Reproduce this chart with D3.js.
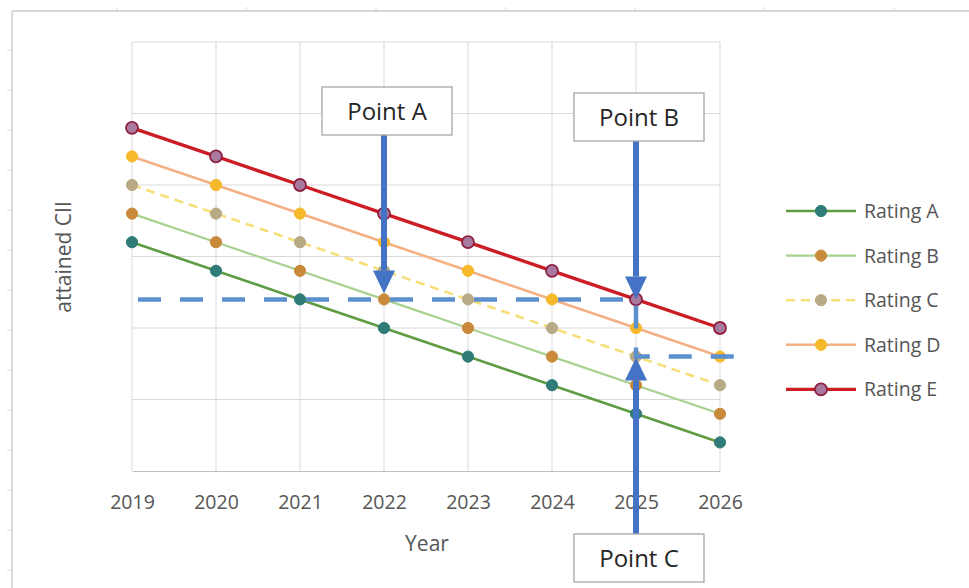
<!DOCTYPE html>
<html>
<head>
<meta charset="utf-8">
<script src="https://cdn.jsdelivr.net/npm/d3@7"></script>
<style>
  html, body { margin: 0; padding: 0; background: #ffffff; }
  svg { display: block; font-family: "Open Sans", "Noto Sans", sans-serif; }
</style>
</head>
<body>
<svg id="chart" width="969" height="588"></svg>
<script>
// Years on the horizontal axis
const years = [2019, 2020, 2021, 2022, 2023, 2024, 2025, 2026];

// Attained CII boundaries per rating (grid units, no printed scale)
const ratingA = [3.2, 2.8, 2.4, 2.0, 1.6, 1.2, 0.8, 0.4];
const ratingB = [3.6, 3.2, 2.8, 2.4, 2.0, 1.6, 1.2, 0.8];
const ratingC = [4.0, 3.6, 3.2, 2.8, 2.4, 2.0, 1.6, 1.2];
const ratingD = [4.4, 4.0, 3.6, 3.2, 2.8, 2.4, 2.0, 1.6];
const ratingE = [4.8, 4.4, 4.0, 3.6, 3.2, 2.8, 2.4, 2.0];

const seriesNames = ["Rating A", "Rating B", "Rating C", "Rating D", "Rating E"];
const yGridTicks = [0, 1, 2, 3, 4, 5, 6];

// Annotation callouts
const calloutLabels = ["Point A", "Point B", "Point C"];

const series = [
  { name: seriesNames[0], values: ratingA, line: "#5e9b41", width: 2.6, dash: null,  dot: "#2f7c78", dotStroke: "#2f7c78" },
  { name: seriesNames[1], values: ratingB, line: "#a9d18e", width: 2.2, dash: null,  dot: "#c98a3c", dotStroke: "#c98a3c" },
  { name: seriesNames[2], values: ratingC, line: "#f7df78", width: 2.6, dash: "9,6", dot: "#b8aa84", dotStroke: "#b8aa84" },
  { name: seriesNames[3], values: ratingD, line: "#f4b183", width: 2.6, dash: null,  dot: "#f6b92c", dotStroke: "#f6b92c" },
  { name: seriesNames[4], values: ratingE, line: "#cc1c24", width: 3.4, dash: null,  dot: "#a97a9f", dotStroke: "#8e2040" }
];

const textGrey = "#555555";
const svg = d3.select("#chart");

// Worksheet-style frame around the chart object
const frame = svg.append("g");
frame.append("line").attr("x1", 12).attr("x2", 969).attr("y1", 11).attr("y2", 11)
  .attr("stroke", "#d6d6d6").attr("stroke-width", 2);
frame.append("line").attr("x1", 12).attr("x2", 12).attr("y1", 11).attr("y2", 588)
  .attr("stroke", "#dcdcdc").attr("stroke-width", 2);
d3.range(50, 588, 40).forEach(y => {
  frame.append("line").attr("x1", 7).attr("x2", 11).attr("y1", y).attr("y2", y)
    .attr("stroke", "#dadada").attr("stroke-width", 1);
});
d3.range(117, 969, 129.5).forEach(x => {
  frame.append("line").attr("x1", x).attr("x2", x).attr("y1", 7).attr("y2", 10)
    .attr("stroke", "#dadada").attr("stroke-width", 1);
});

const margin = { left: 132, right: 249, top: 42, bottom: 117 };
const x = d3.scalePoint().domain(years).range([margin.left, 969 - margin.right]);
const y = d3.scaleLinear().domain([0, 6]).range([588 - margin.bottom, margin.top]);

// Gridlines
const grid = svg.append("g");
grid.selectAll("line.h").data(yGridTicks.slice(1)).join("line")
  .attr("x1", x.range()[0]).attr("x2", x.range()[1])
  .attr("y1", d => y(d)).attr("y2", d => y(d))
  .attr("stroke", "#d9d9d9").attr("stroke-width", 1);
grid.selectAll("line.v").data(years).join("line")
  .attr("x1", d => x(d)).attr("x2", d => x(d))
  .attr("y1", y(6)).attr("y2", y(0))
  .attr("stroke", "#d9d9d9").attr("stroke-width", 1);

// X axis
const xAxis = svg.append("g")
  .attr("transform", `translate(0,${y(0)})`)
  .call(d3.axisBottom(x).tickSize(0).tickPadding(24).tickFormat(d3.format("d")));
xAxis.select(".domain").attr("stroke", "#bfbfbf").attr("stroke-width", 1.2);
xAxis.selectAll("text").attr("font-size", 19.5).attr("fill", textGrey)
  .attr("font-family", "'Open Sans', sans-serif");

// Axis titles
svg.append("text").attr("x", 427).attr("y", 551).attr("text-anchor", "middle")
  .attr("font-size", 21).attr("fill", textGrey).text("Year");
svg.append("text").attr("transform", "translate(71,257) rotate(-90)")
  .attr("text-anchor", "middle").attr("font-size", 21).attr("fill", textGrey)
  .text("attained CII");

// Series lines and markers
const lineGen = d3.line().x((d, i) => x(years[i])).y(d => y(d));
const plot = svg.append("g");
series.forEach(s => {
  plot.append("path").datum(s.values)
    .attr("d", lineGen).attr("fill", "none")
    .attr("stroke", s.line).attr("stroke-width", s.width)
    .attr("stroke-dasharray", s.dash);
});
series.forEach(s => {
  plot.selectAll(null).data(s.values).join("circle")
    .attr("cx", (d, i) => x(years[i])).attr("cy", d => y(d))
    .attr("r", s.name === "Rating E" ? 6 : 5.6)
    .attr("fill", s.dot).attr("stroke", s.dotStroke)
    .attr("stroke-width", s.name === "Rating E" ? 1.8 : 1);
});

// Legend
const legend = svg.append("g");
series.forEach((s, i) => {
  const ly = 211 + i * 44.6;
  legend.append("line").attr("x1", 786).attr("x2", 856).attr("y1", ly).attr("y2", ly)
    .attr("stroke", s.line).attr("stroke-width", s.width).attr("stroke-dasharray", s.dash);
  legend.append("circle").attr("cx", 821).attr("cy", ly)
    .attr("r", s.name === "Rating E" ? 6 : 5.6)
    .attr("fill", s.dot).attr("stroke", s.dotStroke)
    .attr("stroke-width", s.name === "Rating E" ? 1.8 : 1);
  legend.append("text").attr("x", 864).attr("y", ly + 7)
    .attr("font-size", 19.5).attr("fill", textGrey).text(s.name);
});

// Target path: Rating B level at 2022 held until 2025, stepping down to Rating C
const idx2022 = years.indexOf(2022), idx2025 = years.indexOf(2025);
const levelA = ratingB[idx2022];
const levelC = ratingC[idx2025];
const path = d3.path();
path.moveTo(x(2019) + 6, y(levelA));
path.lineTo(x(2025), y(levelA));
path.lineTo(x(2025), y(levelC));
path.lineTo(x(2026) + 20, y(levelC));
svg.append("path").attr("d", path.toString()).attr("fill", "none")
  .attr("stroke", "#5b8fce").attr("stroke-width", 4.5)
  .attr("stroke-dasharray", "23,19");

// Callout arrows with labelled boxes
const blue = "#4472c4";
function callout(label, cx, boxY, tipY) {
  const g = svg.append("g");
  const up = tipY < boxY;
  const boxTop = boxY, boxH = 48, boxW = 130;
  const shaftStart = up ? boxTop : boxTop + boxH;
  const headLen = 23, headW = 11;
  const headBase = up ? tipY + headLen : tipY - headLen;
  g.append("line").attr("x1", cx).attr("x2", cx)
    .attr("y1", shaftStart).attr("y2", headBase)
    .attr("stroke", blue).attr("stroke-width", 6);
  g.append("path")
    .attr("d", `M${cx - headW},${headBase} L${cx + headW},${headBase} L${cx},${tipY} Z`)
    .attr("fill", blue);
  g.append("rect").attr("x", cx - boxW / 2 + 3).attr("y", boxTop)
    .attr("width", boxW).attr("height", boxH)
    .attr("fill", "#ffffff").attr("stroke", "#a6a6a6").attr("stroke-width", 1.3);
  g.append("text").attr("x", cx + 3).attr("y", boxTop + boxH / 2 + 9)
    .attr("text-anchor", "middle").attr("font-size", 24).attr("fill", "#262626")
    .text(label);
}
callout(calloutLabels[0], x(2022), 87, y(ratingB[idx2022]) - 6);
callout(calloutLabels[1], x(2025), 93, y(ratingE[idx2025]));
callout(calloutLabels[2], x(2025), 534, y(ratingC[idx2025]) + 1);
</script>
</body>
</html>
